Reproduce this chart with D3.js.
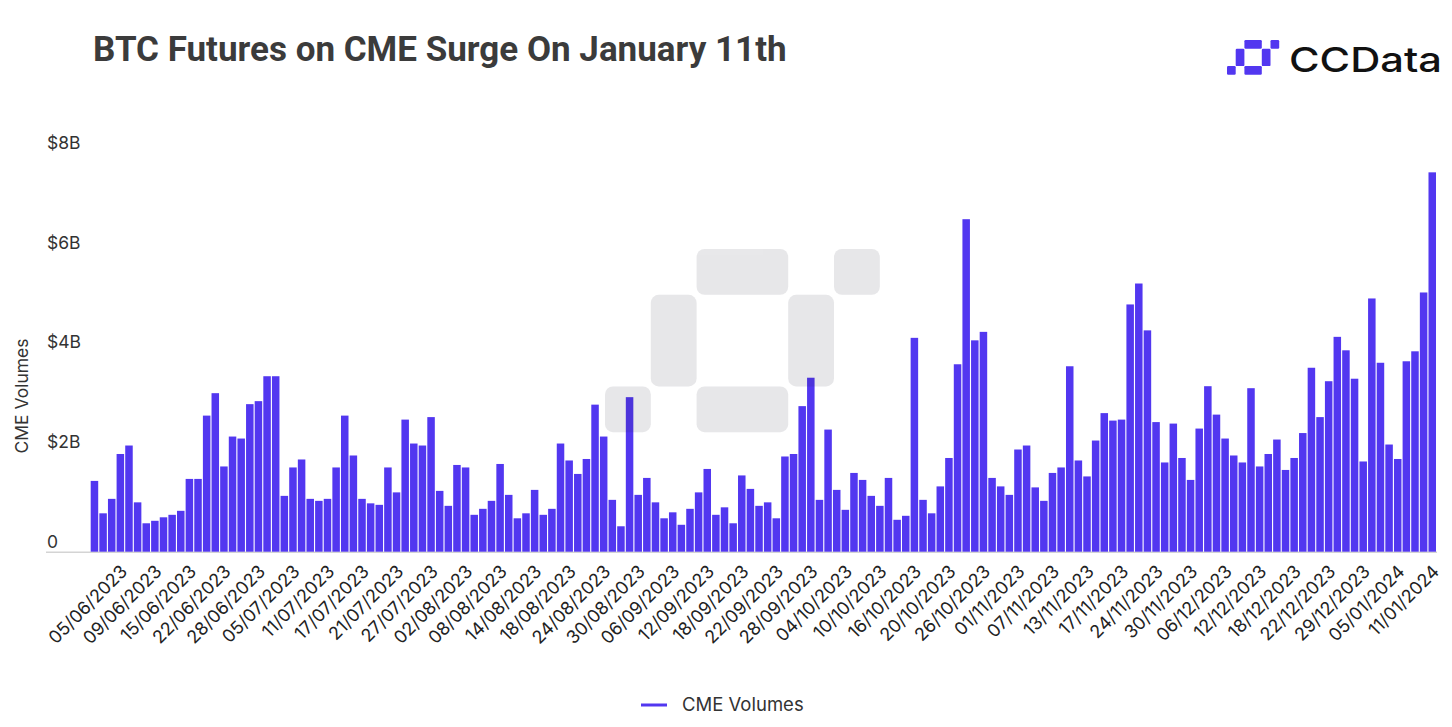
<!DOCTYPE html>
<html>
<head>
<meta charset="utf-8">
<script src="https://cdn.jsdelivr.net/npm/d3@7"></script>
<style>
  body { margin: 0; background: #fff; }
  svg { display: block; }
</style>
</head>
<body>
<script>
/////////////////////////////////////////////////
// data
/////////////////////////////////////////////////
// trading days, 31/05/2023 .. 11/01/2024, weekends and US holidays out
var firstDay = new Date(2023, 4, 31),
    lastDay  = new Date(2024, 0, 11);
var holidays = ["19/06/2023", "04/07/2023", "04/09/2023", "23/11/2023", "25/12/2023", "01/01/2024"];

// daily CME BTC futures volume, $ billions
var volumes = [
  1.42, 0.77, 1.06, 1.96, 2.13, 0.99, 0.57, 0.62, 0.69, 0.74,
  0.82, 1.46, 1.46, 2.73, 3.18, 1.71, 2.31, 2.27, 2.96, 3.02,
  3.52, 3.52, 1.12, 1.69, 1.85, 1.06, 1.02, 1.06, 1.69, 2.73,
  1.93, 1.06, 0.97, 0.94, 1.69, 1.19, 2.65, 2.17, 2.13, 2.70,
  1.22, 0.92, 1.74, 1.69, 0.74, 0.86, 1.02, 1.76, 1.14, 0.67,
  0.77, 1.24, 0.74, 0.86, 2.17, 1.83, 1.56, 1.86, 2.95, 2.31,
  1.04, 0.51, 3.10, 1.14, 1.48, 0.99, 0.67, 0.79, 0.54, 0.86,
  1.19, 1.66, 0.74, 0.89, 0.57, 1.53, 1.26, 0.92, 0.99, 0.67,
  1.91, 1.96, 2.92, 3.49, 1.04, 2.45, 1.24, 0.84, 1.58, 1.44,
  1.12, 0.92, 1.48, 0.64, 0.72, 4.29, 1.04, 0.77, 1.31, 1.88,
  3.76, 6.67, 4.24, 4.41, 1.48, 1.31, 1.14, 2.05, 2.13, 1.29,
  1.02, 1.58, 1.69, 3.72, 1.83, 1.51, 2.23, 2.78, 2.63, 2.65,
  4.96, 5.38, 4.44, 2.60, 1.79, 2.57, 1.88, 1.44, 2.47, 3.32,
  2.75, 2.27, 1.93, 1.79, 3.28, 1.71, 1.96, 2.25, 1.64, 1.88,
  2.38, 3.69, 2.70, 3.42, 4.31, 4.04, 3.47, 1.81, 5.08, 3.79,
  2.15, 1.86, 3.82, 4.02, 5.20, 7.61
];

var xTicks = [
  "05/06/2023", "09/06/2023", "15/06/2023", "22/06/2023", "28/06/2023",
  "05/07/2023", "11/07/2023", "17/07/2023", "21/07/2023", "27/07/2023",
  "02/08/2023", "08/08/2023", "14/08/2023", "18/08/2023", "24/08/2023",
  "30/08/2023", "06/09/2023", "12/09/2023", "18/09/2023", "22/09/2023",
  "28/09/2023", "04/10/2023", "10/10/2023", "16/10/2023", "20/10/2023",
  "26/10/2023", "01/11/2023", "07/11/2023", "13/11/2023", "17/11/2023",
  "24/11/2023", "30/11/2023", "06/12/2023", "12/12/2023", "18/12/2023",
  "22/12/2023", "29/12/2023", "05/01/2024", "11/01/2024"
];

var yTicks      = [0, 2, 4, 6, 8];
var yTickLabels = ["0", "$2B", "$4B", "$6B", "$8B"];

// logo / watermark pixel blocks [col, row, colspan, rowspan]
var logoCells = [[2, 0, 2, 1], [5, 0, 1, 1], [1, 1, 1, 2], [4, 1, 1, 2], [0, 3, 1, 1], [2, 3, 2, 1]];

/////////////////////////////////////////////////
// locals
/////////////////////////////////////////////////
var width  = 1452,
    height = 727;
var purple = "#5237f0";
var axisFont = "Inter, 'Open Sans', sans-serif";

var fmt = d3.timeFormat("%d/%m/%Y");
var days = d3.timeDay.range(firstDay, d3.timeDay.offset(lastDay, 1))
  .filter(function(d) { return d.getDay() !== 0 && d.getDay() !== 6; })
  .map(fmt)
  .filter(function(s) { return holidays.indexOf(s) < 0; });

var data = days.map(function(d, i) { return { day: d, value: volumes[i] }; });

var svg = d3.select("body").append("svg")
  .attr("width", width)
  .attr("height", height);

var x = d3.scaleBand()
  .domain(days)
  .range([90.7, 1436])
  .paddingInner(0.13)
  .paddingOuter(0);

var y = d3.scaleLinear()
  .domain([0, 8])
  .range([551.7, 152.9]);

/////////////////////////////////////////////////
// title + logo
/////////////////////////////////////////////////
svg.append("text")
  .attr("x", 93)
  .attr("y", 61)
  .style("font-family", "Roboto, sans-serif")
  .style("font-weight", 700)
  .style("font-size", "35px")
  .style("fill", "#3b3b3b")
  .text("BTC Futures on CME Surge On January 11th");

function drawCells(g, cell, radius) {
  g.selectAll("rect")
    .data(logoCells)
    .enter().append("rect")
    .attr("x", function(d) { return d[0] * cell; })
    .attr("y", function(d) { return d[1] * cell; })
    .attr("width", function(d) { return d[2] * cell; })
    .attr("height", function(d) { return d[3] * cell; })
    .attr("rx", radius);
}

var logo = svg.append("g").attr("transform", "translate(1227,40)").style("fill", purple);
drawCells(logo, 8.7, 1.2);

svg.append("text")
  .attr("x", 1289)
  .attr("y", 72)
  .attr("textLength", 153)
  .attr("lengthAdjust", "spacingAndGlyphs")
  .style("font-family", "Inter, sans-serif")
  .style("font-weight", 500)
  .style("font-size", "34px")
  .style("fill", "#111")
  .text("CCData");

/////////////////////////////////////////////////
// bars
/////////////////////////////////////////////////
svg.append("line")
  .attr("x1", 46).attr("x2", 1437)
  .attr("y1", y(0) + 0.5).attr("y2", y(0) + 0.5)
  .style("stroke", "#d4d4d4")
  .style("stroke-width", 1.5);

svg.append("g")
  .selectAll("rect")
  .data(data)
  .enter().append("rect")
  .attr("x", function(d) { return x(d.day); })
  .attr("y", function(d) { return y(d.value); })
  .attr("width", x.bandwidth())
  .attr("height", function(d) { return y(0) - y(d.value); })
  .style("fill", purple);

// watermark sits on top, lightly darkening what is under it
var mark = svg.append("g")
  .attr("transform", "translate(605,249)")
  .style("fill", "#1c1c30")
  .style("opacity", 0.1);
drawCells(mark, 45.8, 8);

/////////////////////////////////////////////////
// axes
/////////////////////////////////////////////////
svg.append("g")
  .selectAll("text")
  .data(yTicks)
  .enter().append("text")
  .attr("x", 47)
  .attr("y", function(d) { return y(d) - 4; })
  .style("font-family", axisFont)
  .style("font-size", "17.5px")
  .style("fill", "#333")
  .text(function(d, i) { return yTickLabels[i]; });

svg.append("text")
  .attr("transform", "translate(28,396) rotate(-90)")
  .attr("text-anchor", "middle")
  .style("font-family", axisFont)
  .style("font-size", "17.5px")
  .style("fill", "#333")
  .text("CME Volumes");

var xAxis = svg.append("g")
  .attr("transform", "translate(0," + y(0) + ")")
  .call(d3.axisBottom(x).tickValues(xTicks).tickSize(0));

xAxis.select(".domain").remove();
xAxis.selectAll("text")
  .attr("x", null)
  .attr("y", null)
  .attr("dy", null)
  .attr("text-anchor", "end")
  .attr("transform", "translate(8,21) rotate(-45)")
  .style("font-family", axisFont)
  .style("font-size", "18px")
  .style("fill", "#222");

/////////////////////////////////////////////////
// legend
/////////////////////////////////////////////////
svg.append("line")
  .attr("x1", 641).attr("x2", 667)
  .attr("y1", 705).attr("y2", 705)
  .style("stroke", purple)
  .style("stroke-width", 3);

svg.append("text")
  .attr("x", 682)
  .attr("y", 711)
  .style("font-family", axisFont)
  .style("font-size", "18.5px")
  .style("fill", "#333")
  .text("CME Volumes");
</script>
</body>
</html>
